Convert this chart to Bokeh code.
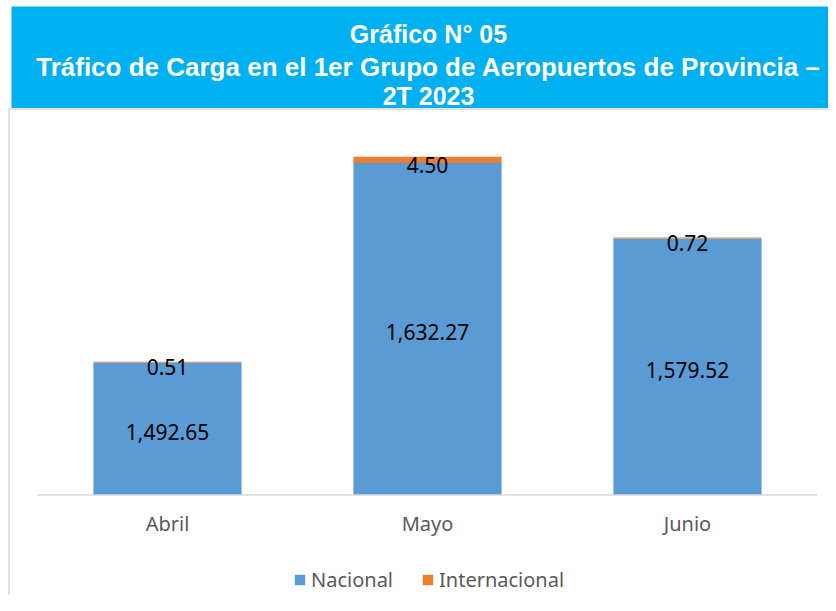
from bokeh.plotting import figure
from bokeh.models import ColumnDataSource, Range1d, Legend, LegendItem
from bokeh.core.properties import value
from bokeh.embed import file_html
from bokeh.resources import INLINE

# ---- data ----
categories = ["Abril", "Mayo", "Junio"]
nacional = [1492.65, 1632.27, 1579.52]
internacional = [0.51, 4.50, 0.72]
series = ["Nacional", "Internacional"]
colors = ["#5B9BD5", "#ED7D31"]
title_lines = [
    "Gráfico N° 05",
    "Tráfico de Carga en el 1er Grupo de Aeropuertos de Provincia –",
    "2T 2023",
]
y_floor = 1400  # value axis minimum

# ---- layout helpers (canvas pixel -> data) ----
W, H = 828, 595
K = 1.429          # px per unit on value axis
BASE_PX = 494.5    # canvas y of the value-axis minimum
X0_PX, STEP_PX = 167.0, 260.0


def xd(px):
    return (px - X0_PX) / STEP_PX


def yd(py):
    return y_floor + (BASE_PX - py) / K


p = figure(
    width=W, height=H, output_backend="svg", toolbar_location=None,
    x_range=Range1d(xd(0), xd(W)), y_range=Range1d(yd(H), yd(0)),
    min_border_left=0, min_border_right=0, min_border_top=0, min_border_bottom=0,
    x_axis_location=None, y_axis_location=None,
    outline_line_color=None, background_fill_color="white",
    border_fill_color="white",
)
p.grid.visible = False

# chart-area border and title band
p.segment(x0=[xd(8.5), xd(8)], y0=[yd(108), yd(108.5)],
          x1=[xd(8.5), xd(W + 10)], y1=[yd(H + 5), yd(108.5)],
          line_color="#D9D9D9", line_width=1.5)
p.quad(left=[xd(11)], right=[xd(W + 10)], top=[yd(6)], bottom=[yd(107.5)],
       fill_color="#00B0F0", line_color=None)
p.text(x=[xd(428)] * 2, y=[yd(33), yd(95)], text=[title_lines[0], title_lines[2]],
       text_align="center", text_baseline="middle",
       text_font=value("Liberation Sans"), text_font_style="bold",
       text_font_size="25px", text_color="white")
p.text(x=[xd(428)], y=[yd(66)], text=[title_lines[1]],
       text_align="center", text_baseline="middle",
       text_font=value("Liberation Sans"), text_font_style="bold",
       text_font_size="26px", text_color="white")

# bars (stacked from the value-axis minimum)
xs = list(range(len(categories)))
tops = [n + i for n, i in zip(nacional, internacional)]
src = ColumnDataSource(dict(x=xs, base=[y_floor] * len(xs), nat=nacional, top=tops))
r_nat = p.vbar(x="x", bottom="base", top="nat", width=0.57,
               fill_color=colors[0], line_color=None, source=src)
r_int = p.vbar(x="x", bottom="nat", top="top", width=0.57,
               fill_color=colors[1], line_color=None, source=src)

# baseline (category axis line)
p.segment(x0=[-0.5], y0=[y_floor], x1=[len(categories) - 0.5], y1=[y_floor],
          line_color="#D9D9D9", line_width=1.5)

# data labels
nat_y = [(y_floor + v) / 2 - 3 / K for v in nacional]
int_y = [n + i / 2 - 5 / K for n, i in zip(nacional, internacional)]
p.text(x=xs + xs, y=nat_y + int_y,
       text=[f"{v:,.2f}" for v in nacional] + [f"{v:,.2f}" for v in internacional],
       text_align="center", text_baseline="middle",
       text_font=value("Noto Sans"), text_font_size="21px", text_color="#000000")

# category labels
p.text(x=xs, y=[yd(523)] * len(xs), text=categories,
       text_align="center", text_baseline="middle",
       text_font=value("Noto Sans"), text_font_size="20px", text_color="#595959")

# legend
legend = Legend(
    items=[LegendItem(label=s, renderers=[r]) for s, r in zip(series, [r_nat, r_int])],
    location=(293, 2), orientation="horizontal",
    glyph_width=13, glyph_height=13, label_standoff=5, spacing=28,
    padding=0, margin=0, border_line_color=None, background_fill_alpha=0,
    label_text_font="Noto Sans", label_text_font_size="20px",
    label_text_color="#595959", label_height=20,
)
p.add_layout(legend)

open("out.html", "w").write(file_html(p, INLINE))
